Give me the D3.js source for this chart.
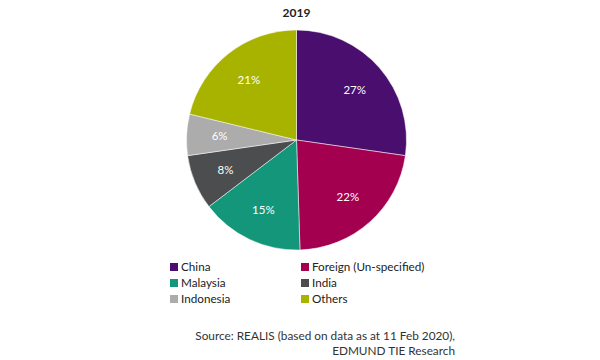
<!DOCTYPE html>
<html><head><meta charset="utf-8">
<script src="https://cdn.jsdelivr.net/npm/d3@7"></script>
<style>body{margin:0;background:#fff;}svg{display:block;font-family:Lato,"Open Sans",sans-serif;}</style>
</head><body>
<svg id="c" width="600" height="360"></svg>
<script>
const categories = ["China","Foreign (Un-specified)","Malaysia","India","Indonesia","Others"];
const values = [27,22,15,8,6,21];
const colors = ["#4a0e6e","#a3004f","#13967a","#4c4d4f","#acacac","#a8b300"];
const title = "2019";
const sourceLines = ["Source: REALIS (based on data as at 11 Feb 2020),","EDMUND TIE Research"];

const svg = d3.select("#c");
const cx = 296.5, cy = 140, r = 110;
svg.append("text").attr("x", cx).attr("y", 17).attr("text-anchor","middle")
  .attr("font-size", 12).attr("font-weight","bold").attr("fill","#222").text(title);

const pie = d3.pie().sort(null).value(d => d);
const arcs = pie(values);
const arc = d3.arc().innerRadius(0).outerRadius(r);
const labelArc = d3.arc().innerRadius(r*0.7).outerRadius(r*0.7);
const g = svg.append("g").attr("transform", `translate(${cx},${cy})`);
g.selectAll("path").data(arcs).join("path").attr("d", arc)
  .attr("fill", (d,i) => colors[i]).attr("stroke","#fff").attr("stroke-width",0.5);
g.selectAll("text").data(arcs).join("text")
  .attr("transform", d => `translate(${labelArc.centroid(d)})`)
  .attr("text-anchor","middle").attr("dy","0.35em")
  .attr("font-size", 11.5).attr("fill","#fff").text(d => d.data + "%");

const legend = svg.append("g");
categories.forEach((c,i) => {
  const col = i % 2, row = Math.floor(i/2);
  const x = col === 0 ? 170 : 301, y = 267 + row*16;
  legend.append("rect").attr("x", x).attr("y", y-4).attr("width", 8).attr("height", 8).attr("fill", colors[i]);
  legend.append("text").attr("x", x+11).attr("y", y).attr("dy","0.35em")
    .attr("font-size", 11.7).attr("fill","#222").text(c);
});

sourceLines.forEach((t,i) => {
  svg.append("text").attr("x", 455).attr("y", 336 + i*15).attr("dy","0.35em").attr("text-anchor","end")
    .attr("font-size", 11.8).attr("fill","#333").text(t);
});
</script>
</body></html>
